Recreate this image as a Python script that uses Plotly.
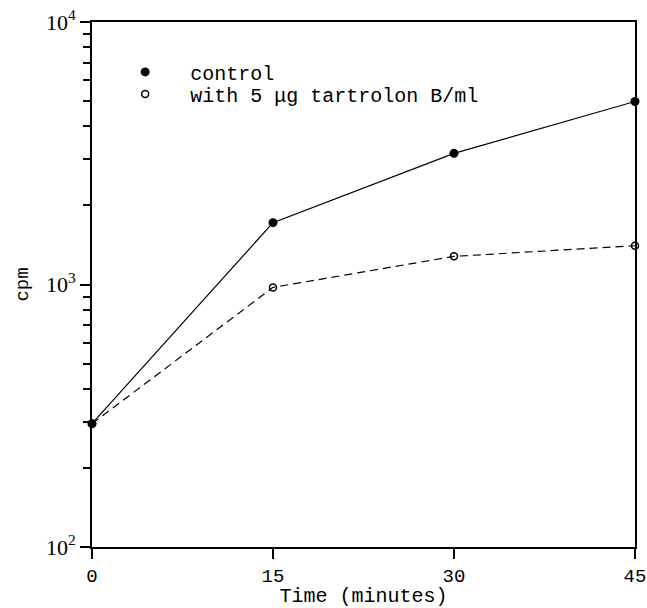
import plotly.graph_objects as go

time_min = [0, 15, 30, 45]
control = [295, 1720, 3160, 4980]
tartrolon = [295, 975, 1280, 1405]
x_ticks = [0, 15, 30, 45]
y_major = [100, 1000, 10000]
y_major_text = ["10<sup>2</sup>", "10<sup>3</sup>", "10<sup>4</sup>"]
y_minor = [m * 10 ** e for e in (2, 3) for m in range(2, 10)]
names = ["control", "with 5 \u03bcg tartrolon B/ml"]

mono = "Liberation Mono, Courier New, monospace"
serif = "Liberation Serif, Times New Roman, serif"

fig = go.Figure()
fig.add_trace(go.Scatter(
    x=time_min, y=control, mode="lines+markers", showlegend=False,
    line=dict(color="black", width=1.2),
    marker=dict(symbol="circle", size=9, color="black"), cliponaxis=False))
fig.add_trace(go.Scatter(
    x=time_min, y=tartrolon, mode="lines+markers", showlegend=False,
    line=dict(color="black", width=1.2, dash="8px,5px"),
    marker=dict(symbol="circle-open", size=7, color="black", line=dict(width=1.5)),
    cliponaxis=False))
# legend entries (one legend each, so rows can be placed like the reference)
fig.add_trace(go.Scatter(x=[None], y=[None], mode="markers", name=names[0],
                         legend="legend",
                         marker=dict(symbol="circle", size=9, color="black")))
fig.add_trace(go.Scatter(x=[None], y=[None], mode="markers", name=names[1],
                         legend="legend2",
                         marker=dict(symbol="circle-open", size=7, color="black",
                                     line=dict(width=1.5))))

leg_common = dict(xanchor="left", yanchor="middle",
                  font=dict(family=mono, size=20, color="black"),
                  itemwidth=80, bgcolor="rgba(0,0,0,0)", borderwidth=0)

fig.update_layout(
    width=647, height=608,
    margin=dict(l=92, r=12, t=22, b=61),
    paper_bgcolor="white", plot_bgcolor="white",
    showlegend=True,
    legend=dict(x=0.015, y=0.905, **leg_common),
    legend2=dict(x=0.015, y=0.863, **leg_common),
    xaxis=dict(range=[0, 45], tickvals=x_ticks, ticks="outside", ticklen=10,
               tickwidth=1.5, tickcolor="black", showgrid=False, zeroline=False,
               showline=True, linecolor="black", linewidth=2, mirror=True,
               ticklabeloverflow="allow", automargin=False,
               tickfont=dict(family=mono, size=19, color="black"),
               title=dict(text="Time (minutes)", standoff=4,
                          font=dict(family=mono, size=20, color="black"))),
    yaxis=dict(type="log", range=[2, 4], tickvals=y_major, ticktext=y_major_text,
               ticks="outside", ticklen=10, tickwidth=1.5, tickcolor="black",
               showgrid=False, zeroline=False, showline=True, linecolor="black",
               linewidth=2, mirror=True, automargin=False,
               minor=dict(tickvals=y_minor, ticks="outside", ticklen=7,
                          tickwidth=1.5, tickcolor="black", showgrid=False),
               tickfont=dict(family=serif, size=22, color="black"),
               title=dict(text="cpm", standoff=12,
                          font=dict(family=mono, size=19, color="black"))),
)

fig.write_html("out.html")
